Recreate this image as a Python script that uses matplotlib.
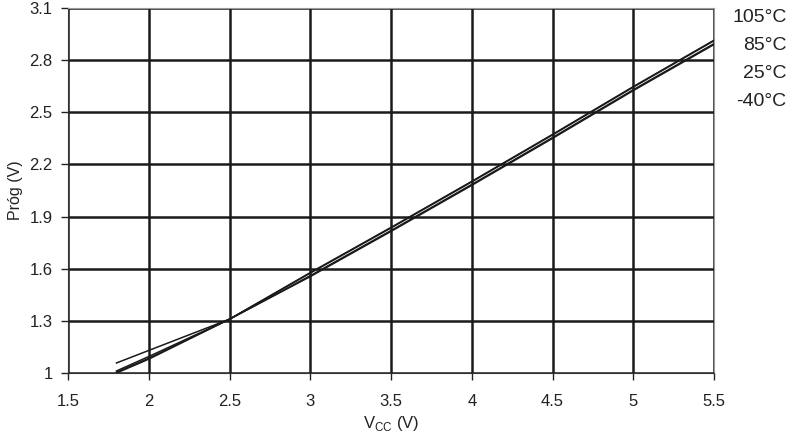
import numpy as np
import matplotlib
matplotlib.use("Agg")
import matplotlib.pyplot as plt

plt.rcParams["font.family"] = ["Liberation Sans", "DejaVu Sans"]

# ── Data ─────────────────────────────────────────────────────────────────────
vcc = [1.8, 2.0, 2.5, 3.0, 3.5, 4.0, 4.5, 5.0, 5.5]
t_m40 = [1.058, 1.13, 1.31, 1.555, 1.815, 2.080, 2.350, 2.625, 2.890]
t_25 = [1.012, 1.095, 1.31, 1.560, 1.820, 2.085, 2.355, 2.630, 2.895]
t_85 = [1.005, 1.085, 1.31, 1.575, 1.835, 2.100, 2.370, 2.645, 2.912]
t_105 = [1.000, 1.080, 1.31, 1.578, 1.838, 2.103, 2.373, 2.648, 2.915]
temp_labels = ["105°C", "85°C", "25°C", "-40°C"]
xticks = [1.5, 2, 2.5, 3, 3.5, 4, 4.5, 5, 5.5]
yticks = [1, 1.3, 1.6, 1.9, 2.2, 2.5, 2.8, 3.1]

# ── Plot ─────────────────────────────────────────────────────────────────────
fig = plt.figure(figsize=(7.88, 4.42), dpi=100)
ax = fig.add_axes([0.0863, 0.156, 0.82, 0.826])

for series in (t_105, t_85, t_25, t_m40):
    ax.plot(vcc, series, color="#1a1a1a", lw=1.1, zorder=3)

ax.set_xlim(1.5, 5.5)
ax.set_ylim(1.0, 3.1)
ax.set_xticks(xticks)
ax.set_xticklabels(["1.5", "2", "2.5", "3", "3.5", "4", "4.5", "5", "5.5"])
ax.set_yticks(yticks)
ax.set_yticklabels([f"{v:.1f}" if v != 1 else "1" for v in yticks])
ax.grid(True, color="#1a1a1a", lw=1.8)
ax.tick_params(labelsize=12, colors="#222222", length=5, width=1)
ax.tick_params(axis="y", pad=6)
ax.tick_params(axis="x", pad=10)

for side in ("top", "right"):
    ax.spines[side].set_color("#999999")
for side in ("left", "bottom"):
    ax.spines[side].set_color("#333333")

ax.set_xlabel("V$_{\\mathregular{CC}}$ (V)", fontsize=12, color="#222222", labelpad=4)
ax.set_ylabel("Próg (V)", fontsize=11.5, color="#222222", labelpad=5)

for i, lab in enumerate(temp_labels):
    fig.text(0.998, 1 - (17 + 28 * i) / 442, lab, ha="right", va="center",
             fontsize=14, color="#222222")

fig.savefig("out.png", dpi=100)
